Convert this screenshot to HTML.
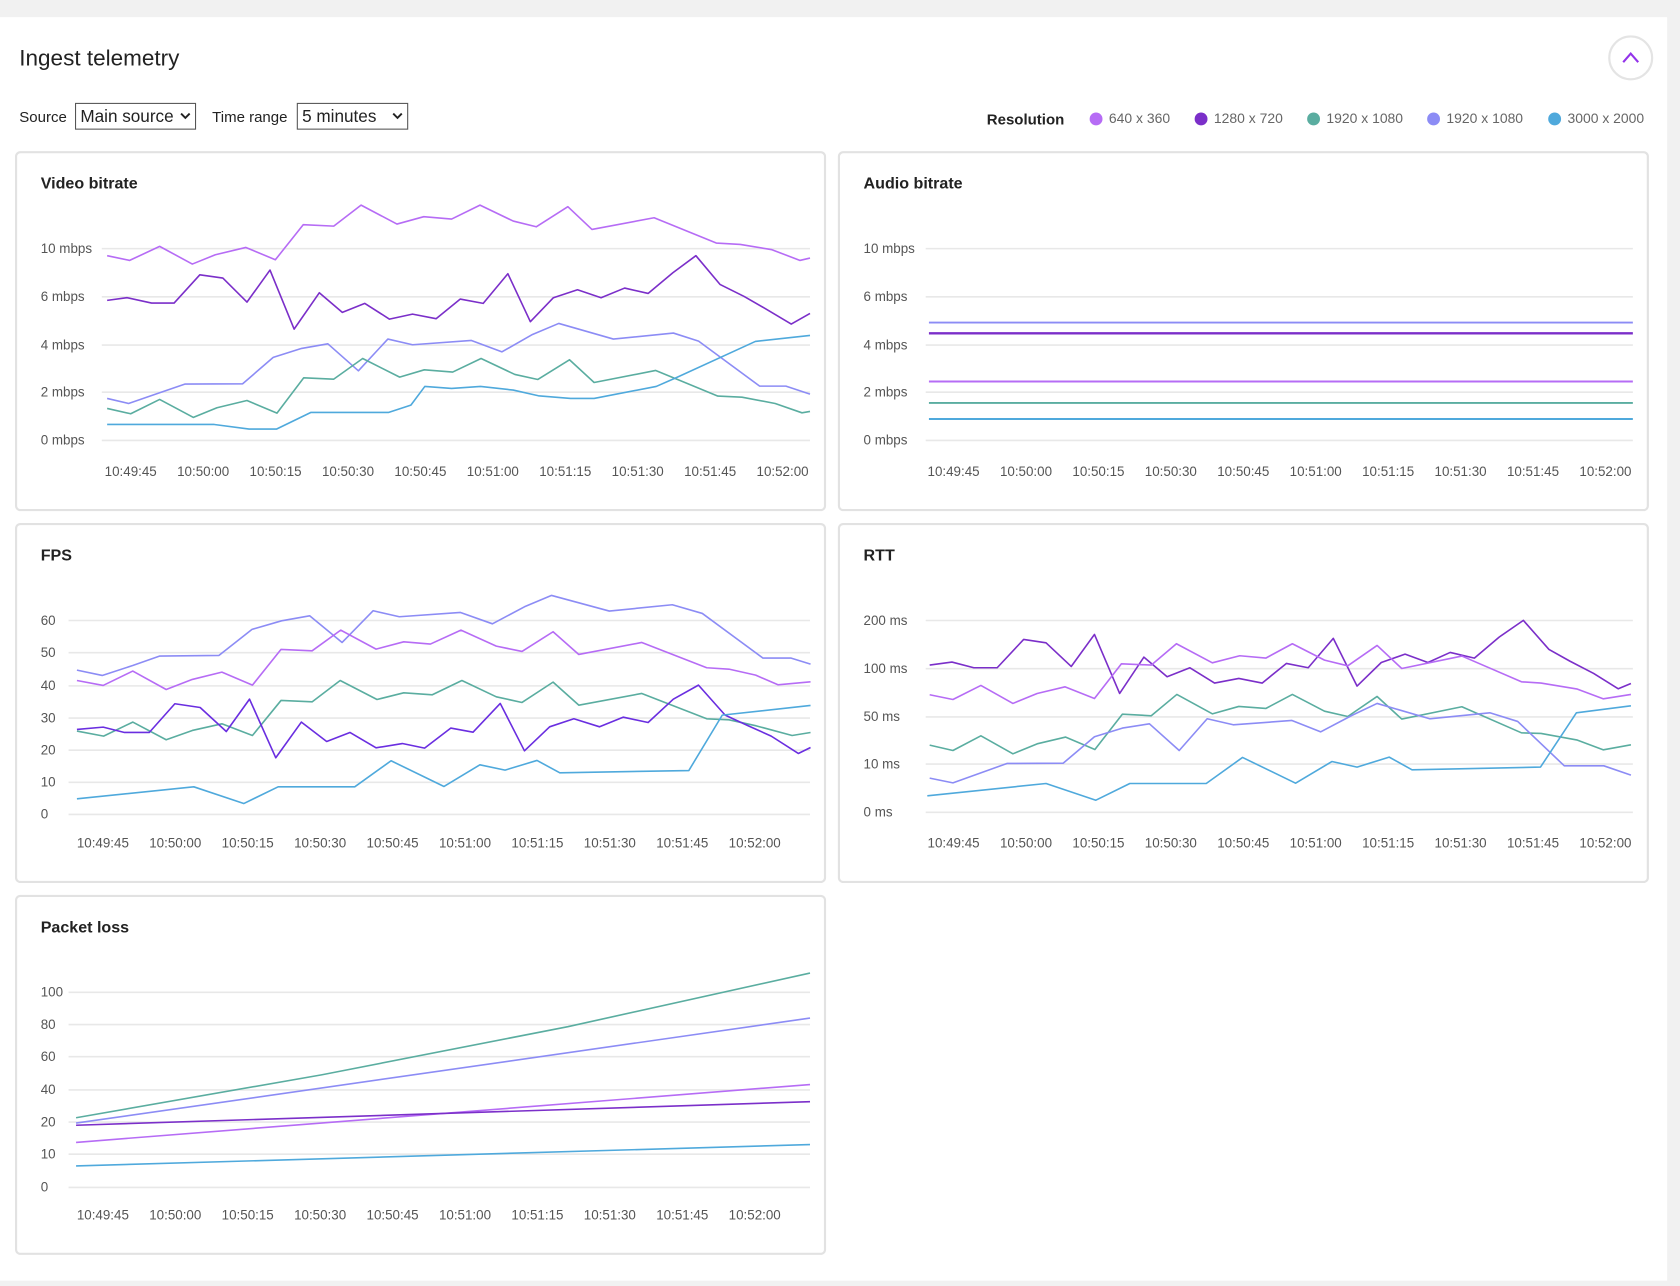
<!DOCTYPE html>
<html><head><meta charset="utf-8"><style>
html,body{margin:0;padding:0;background:#fff}
svg{display:block}
text{font-family:"Liberation Sans",sans-serif}
</style></head><body>
<svg id="s" xmlns="http://www.w3.org/2000/svg" width="1680" height="1286" viewBox="0 0 1568 1200" preserveAspectRatio="none">
<rect x="0" y="0" width="1568" height="1200" fill="#f1f1f1"/>
<rect x="0" y="16" width="1556" height="1179" fill="#fff"/>
<text x="18" y="61" font-size="21" fill="#222">Ingest telemetry</text>
<circle cx="1522" cy="54" r="20" fill="#fff" stroke="#e4e4e4" stroke-width="2"/>
<polyline points="1515,58 1522,50 1529,58" fill="none" stroke="#9333ea" stroke-width="2"/>
<text x="18" y="114" font-size="14" fill="#222">Source</text>
<rect x="70.5" y="96.5" width="112" height="24" fill="#fff" stroke="#555"/>
<text x="75" y="114" font-size="16" fill="#222">Main source</text>
<polyline points="169,106 173,110 177,106" fill="none" stroke="#222" stroke-width="1.8"/>
<text x="198" y="114" font-size="14" fill="#222">Time range</text>
<rect x="277.5" y="96.5" width="103" height="24" fill="#fff" stroke="#555"/>
<text x="282" y="114" font-size="16" fill="#222">5 minutes</text>
<polyline points="367,106 371,110 375,106" fill="none" stroke="#222" stroke-width="1.8"/>
<text x="921" y="116" font-size="14" font-weight="bold" fill="#222">Resolution</text>
<circle cx="1023" cy="111" r="6" fill="#b66cf5"/><text x="1035" y="115" font-size="13" fill="#666">640 x 360</text>
<circle cx="1121" cy="111" r="6" fill="#7b2fc9"/><text x="1133" y="115" font-size="13" fill="#666">1280 x 720</text>
<circle cx="1226" cy="111" r="6" fill="#5aada0"/><text x="1238" y="115" font-size="13" fill="#666">1920 x 1080</text>
<circle cx="1338" cy="111" r="6" fill="#8c8cf5"/><text x="1350" y="115" font-size="13" fill="#666">1920 x 1080</text>
<circle cx="1451" cy="111" r="6" fill="#4fa9dc"/><text x="1463" y="115" font-size="13" fill="#666">3000 x 2000</text>
<g fill="#fff" stroke="#e2e2e2" stroke-width="2">
<rect x="15" y="142" width="755" height="334" rx="4"/>
<rect x="783" y="142" width="755" height="334" rx="4"/>
<rect x="15" y="489" width="755" height="334" rx="4"/>
<rect x="783" y="489" width="755" height="334" rx="4"/>
<rect x="15" y="836" width="755" height="334" rx="4"/>
</g>
<g font-size="15" font-weight="bold" fill="#222">
<text x="38" y="176">Video bitrate</text>
<text x="806" y="176">Audio bitrate</text>
<text x="38" y="523">FPS</text>
<text x="806" y="523">RTT</text>
<text x="38" y="870">Packet loss</text>
</g>
<g id="grid" stroke="#e8e8e8" stroke-width="1.5"></g>
<g font-size="12.5" fill="#555">
<text x="38" y="236">10 mbps</text><text x="38" y="281">6 mbps</text><text x="38" y="326">4 mbps</text><text x="38" y="370">2 mbps</text><text x="38" y="415">0 mbps</text>
<text x="806" y="236">10 mbps</text><text x="806" y="281">6 mbps</text><text x="806" y="326">4 mbps</text><text x="806" y="370">2 mbps</text><text x="806" y="415">0 mbps</text>
<text x="38" y="583">60</text><text x="38" y="613">50</text><text x="38" y="644">40</text><text x="38" y="674">30</text><text x="38" y="704">20</text><text x="38" y="734">10</text><text x="38" y="764">0</text>
<text x="806" y="583">200 ms</text><text x="806" y="628">100 ms</text><text x="806" y="673">50 ms</text><text x="806" y="717">10 ms</text><text x="806" y="762">0 ms</text>
<text x="38" y="930">100</text><text x="38" y="960">80</text><text x="38" y="990">60</text><text x="38" y="1021">40</text><text x="38" y="1051">20</text><text x="38" y="1081">10</text><text x="38" y="1112">0</text>
</g>
<g id="xl" font-size="12.5" fill="#555" text-anchor="middle"></g>
<g id="lines" fill="none" stroke-width="1.5" stroke-linejoin="round"></g>
</svg>
<script>
var NS="http://www.w3.org/2000/svg";
function el(p,tag,a,t){var e=document.createElementNS(NS,tag);for(var k in a)e.setAttribute(k,a[k]);if(t)e.textContent=t;document.getElementById(p).appendChild(e);}
[[95,756,[232,277,322,366,411]],[864,1524,[232,277,322,366,411]],[64,756,[579,609,640,670,700,730,760]],[864,1524,[579,624,669,713,758]],[64,756,[926,956,986,1017,1047,1077,1108]]].forEach(function(g){g[2].forEach(function(y){el("grid","line",{x1:g[0],x2:g[1],y1:y,y2:y});});});
var labs=["10:49:45","10:50:00","10:50:15","10:50:30","10:50:45","10:51:00","10:51:15","10:51:30","10:51:45","10:52:00"];
[[122,444],[890,444],[96,791],[890,791],[96,1138]].forEach(function(p){labs.forEach(function(l,i){el("xl","text",{x:p[0]+i*67.6,y:p[1]},l);});});
var C={a:"#b66cf5",b:"#7b2fc9",g:"#5aada0",l:"#8c8cf5",u:"#4fa9dc"};
function draw(col,pts,fx,fy){var s=[];for(var i=0;i<pts.length;i+=2)s.push(fx(pts[i]).toFixed(1)+","+fy(pts[i+1]).toFixed(1));el("lines","polyline",{points:s.join(" "),stroke:col});}
// video
var vx=function(x){return x/2}, vy=function(y){return y/3.214};
draw(C.a,[200,767,242,781,298,739,359,792,402,764,459,742,514,779,566,674,623,678,674,615,741,672,791,650,843,657,896,615,958,663,1001,680,1060,620,1105,688,1221,653,1337,729,1382,733,1441,749,1493,781,1512,774],vx,vy);
draw(C.b,[200,901,237,893,283,909,325,909,373,824,416,834,461,906,504,810,549,987,596,878,639,937,681,910,727,957,770,942,814,956,859,897,902,910,948,821,990,965,1033,893,1078,869,1122,893,1166,864,1210,880,1256,818,1299,767,1344,853,1389,889,1428,925,1477,972,1512,940],vx,vy);
draw(C.l,[200,1195,240,1210,298,1178,345,1152,453,1151,510,1072,563,1045,612,1031,669,1112,724,1017,770,1034,880,1021,937,1055,994,1003,1043,970,1145,1017,1257,999,1304,1023,1418,1158,1467,1158,1512,1182],vx,vy);
draw(C.g,[200,1225,244,1241,298,1198,361,1252,405,1223,461,1201,517,1239,567,1133,623,1137,677,1075,746,1131,792,1109,845,1116,898,1075,961,1123,1004,1138,1063,1079,1109,1147,1224,1111,1340,1188,1385,1191,1447,1210,1497,1238,1512,1234],vx,vy);
draw(C.u,[200,1273,400,1273,465,1287,516,1287,580,1237,725,1237,767,1215,793,1159,843,1165,897,1159,958,1170,1005,1187,1065,1195,1109,1195,1225,1159,1262,1133,1410,1024,1512,1006],vx,vy);
// audio
var id=function(v){return v};
[[C.l,301],[C.b,311],[C.a,356],[C.g,376],[C.u,391]].forEach(function(a){el("lines","line",{x1:867,x2:1524,y1:a[1],y2:a[1],stroke:a[0],"stroke-width":a[0]==C.b?2.2:1.8});});
// fps
var fx=function(x){return 56+x/2.21}, fy=function(y){return 541.3+y/3.214};
draw(C.l,[35,270,87,286,150,256,205,228,328,226,396,148,457,122,515,107,582,187,646,92,700,110,826,97,892,131,958,80,1014,46,1133,93,1263,74,1325,100,1450,234,1508,234,1548,252],fx,fy);
draw(C.a,[35,301,89,316,150,273,219,328,273,298,334,276,397,315,456,208,520,212,579,150,652,207,709,185,764,192,827,150,900,198,953,214,1017,155,1070,223,1200,187,1334,263,1380,267,1435,285,1481,314,1548,305],fx,fy);
draw(C.g,[35,453,90,468,150,426,219,479,273,451,334,431,397,466,456,361,520,365,578,301,654,358,709,338,768,344,829,301,900,350,953,367,1017,306,1070,375,1200,340,1334,416,1380,419,1436,437,1510,466,1548,457],fx,fy);
draw("#6a2ee0",[35,448,89,441,133,457,184,457,237,371,289,382,343,454,391,357,445,533,498,426,550,484,598,457,652,503,706,490,752,504,806,444,852,456,908,370,958,512,1010,440,1060,416,1113,440,1162,411,1213,427,1265,357,1317,315,1372,405,1420,437,1467,468,1523,520,1548,502],fx,fy);
draw(C.u,[35,656,276,620,379,670,450,620,608,620,683,542,792,619,866,554,918,570,984,541,1031,578,1297,571,1366,405,1548,376],fx,fy);
// rtt
var rx=function(x){return 849.4+x/2.301}, ry=fy;
draw(C.b,[42,255,90,246,137,263,187,263,244,178,292,188,346,259,396,163,450,340,502,231,552,290,601,263,654,309,706,295,756,309,808,250,855,263,909,175,960,318,1012,247,1063,222,1112,247,1160,217,1212,234,1265,171,1317,121,1372,208,1417,243,1468,280,1521,326,1548,310],rx,ry);
draw(C.a,[42,344,92,358,152,316,221,370,273,340,333,320,396,355,454,251,518,255,572,191,649,248,708,227,764,234,821,191,890,240,940,257,1003,196,1056,265,1185,228,1313,305,1355,309,1433,327,1489,356,1548,343],rx,ry);
draw(C.g,[42,495,92,511,152,467,221,521,273,491,334,471,397,508,456,402,518,407,573,343,649,401,706,379,764,385,821,343,890,393,940,409,1003,349,1056,417,1185,380,1313,458,1355,460,1433,480,1489,509,1548,494],rx,ry);
draw(C.l,[42,594,92,608,208,550,329,549,396,470,456,444,514,431,578,511,638,416,694,434,820,421,882,455,950,405,1003,370,1116,416,1245,398,1305,424,1405,557,1490,557,1548,585],rx,ry);
draw(C.u,[37,647,292,610,399,660,472,610,636,610,714,532,828,609,906,544,960,561,1029,531,1078,569,1354,561,1431,398,1548,377],rx,ry);
// packet loss
draw(C.g,[71,1043,300,1003,530,958,756,908],id,id);
draw(C.l,[71,1048,756,950],id,id);
draw(C.a,[71,1066,756,1012],id,id);
draw(C.b,[71,1050,756,1028],id,id);
draw(C.u,[71,1088,756,1068],id,id);
</script>
</body></html>
